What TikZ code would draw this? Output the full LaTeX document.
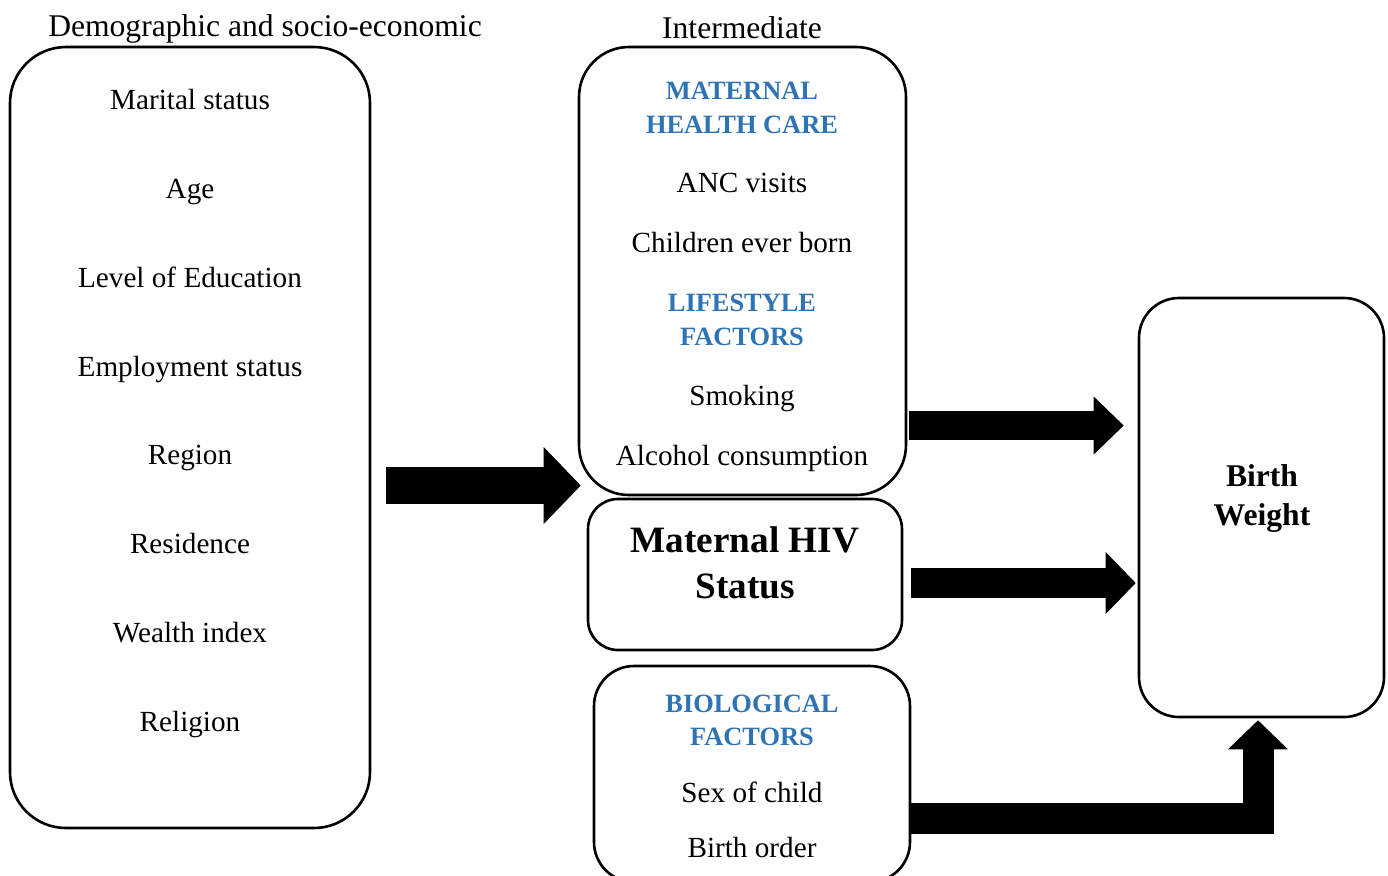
\documentclass[tikz,border=0pt]{standalone}
\usepackage{fontspec}
\setmainfont{Liberation Serif}
\usetikzlibrary{positioning}
\usetikzlibrary{arrows.meta}
\definecolor{headblue}{RGB}{46,116,181}
\tikzset{
roundbox/.style={ % Sets the properties for each box
draw,
line width=1.3pt,
inner sep=0pt},
item/.style={ % plain entries
font=\fontsize{14.6}{17}\selectfont,
text height=2ex,
text depth=0.1ex},
heading/.style={ % Blue group headings
font=\bfseries\fontsize{13.2}{17}\selectfont,
text=headblue,
align=center},
coltitle/.style={font=\fontsize{15.8}{19}\selectfont},
blockarrow/.style={ % Thick filled arrows between boxes
draw,
line join=miter}}

\begin{document}
\begin{tikzpicture}[x=0.5pt, y=-0.5pt]
\useasboundingbox (0,0) rectangle (1388,875);
% boxes
\node[roundbox, rounded corners=28pt, minimum width=180pt, minimum height=390.5pt] (demo) at (190,437.5) {};
\node[roundbox, rounded corners=25pt, minimum width=163.5pt, minimum height=224pt] (mat) at (742.5,271) {};
\node[roundbox, rounded corners=15pt, minimum width=157pt, minimum height=75.5pt] (hiv) at (745,574.5) {};
\node[roundbox, rounded corners=20pt, minimum width=158pt, minimum height=108pt] (bio) at (752,774) {};
\node[roundbox, rounded corners=20pt, minimum width=122.5pt, minimum height=209.5pt] (bw) at (1261.5,507.5) {};
% column titles
\node[coltitle] (demotitle) at (265,29) {Demographic and socio-economic};
\node[coltitle] (midtitle) at (742,28) {Intermediate};
% left list
\foreach \t [count=\i from 0] in {Marital status, Age, Level of Education, Employment status, Region, Residence, Wealth index, Religion}
  \node[item] (demo\i) at (190,{101+88.8*\i}) {\t};
% intermediate factors
\node[heading] (mhc) at (742,108) {MATERNAL\\HEALTH CARE};
\node[item] (anc) at (742,184) {ANC visits};
\node[item] (ceb) at (742,244) {Children ever born};
\node[heading] (life) at (742,319.5) {LIFESTYLE\\FACTORS};
\node[item] (smk) at (742,397) {Smoking};
\node[item] (alc) at (742,457) {Alcohol consumption};
\node[font=\bfseries\fontsize{18.6}{23}\selectfont, align=center] (hivtxt) at (745,563) {Maternal HIV\\Status};
\node[heading, font=\bfseries\fontsize{13.2}{16.5}\selectfont] (biof) at (752,720.5) {BIOLOGICAL\\FACTORS};
\node[item] (sex) at (752,794) {Sex of child};
\node[item] (bord) at (752,849) {Birth order};
\node[font=\bfseries\fontsize{15.8}{19.5}\selectfont, align=center] (bwtxt) at (1262,499) {Birth\\Weight};
% arrows
\draw[blockarrow, line width=18.5pt, -{Triangle[width=38.5pt,length=18.5pt,line width=0pt]}, shorten <=7.5pt, shorten >=-1.5pt] (demo.east |- 0,485.5) -- (mat.west |- 0,485.5);
\draw[blockarrow, line width=14.5pt, -{Triangle[width=29pt,length=15pt,line width=0pt]}, shorten <=1pt, shorten >=7pt] (mat.east |- 0,425.5) -- (bw.west |- 0,425.5);
\draw[blockarrow, line width=15pt, -{Triangle[width=31pt,length=15pt,line width=0pt]}, shorten <=4pt, shorten >=1pt] (hiv.east |- 0,583) -- (bw.west |- 0,583);
\draw[blockarrow, line width=15.5pt, -{Triangle[width=30pt,length=14.5pt,line width=0pt]}, shorten >=1pt] (bio.east |- 0,818.5) -| ([xshift=-1.75pt]bw.south);
\end{tikzpicture}
\end{document}
